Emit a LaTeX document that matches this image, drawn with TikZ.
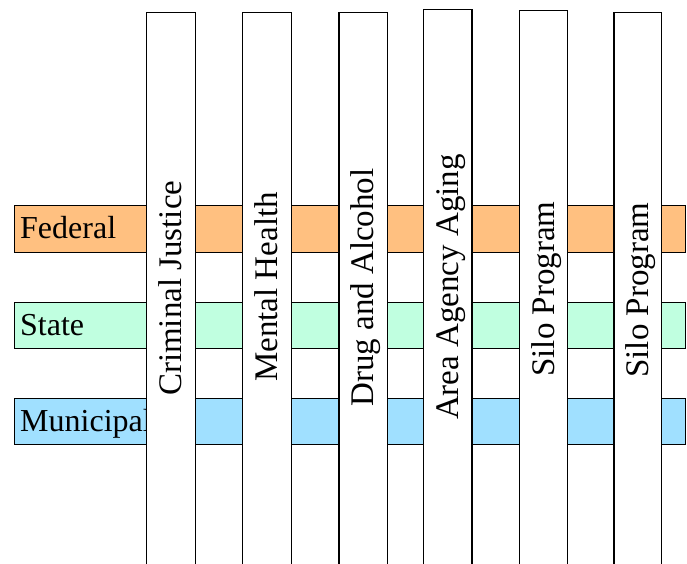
\documentclass[tikz,border=0pt]{standalone}
\usepackage{fontspec}
\setmainfont{Liberation Serif}
\definecolor{fedcol}{RGB}{255,192,128}
\definecolor{statecol}{RGB}{192,255,224}
\definecolor{muncol}{RGB}{160,224,255}
\begin{document}
\begin{tikzpicture}[x=1pt,y=-1pt,
  hbar/.style={draw=black,line width=1.2pt,rectangle,inner sep=0pt,anchor=north west,minimum width=670.5pt,minimum height=46.5pt},
  vbar/.style={draw=black,line width=1.2pt,rectangle,fill=white,inner sep=0pt,anchor=north west,minimum width=49pt},
  hlabel/.style={anchor=base west,inner sep=0pt,font=\fontsize{32}{38}\selectfont},
  vlabel/.style={anchor=base,rotate=90,inner sep=0pt,font=\fontsize{33}{40}\selectfont}]
\useasboundingbox (0,0) rectangle (687,564);
\clip (0,0) rectangle (687,564);
% horizontal bars
\node[hbar,fill=fedcol] (fed) at (14,205) {};
\node[hbar,fill=statecol] (state) at (14,301.5) {};
\node[hbar,fill=muncol] (mun) at (14,397.5) {};
\node[hlabel] (fedl) at (20,238.3) {Federal};
\node[hlabel] (statel) at (20,335) {State};
\node[hlabel] (munl) at (20,431.7) {Municipal};
% vertical bars
\node[vbar,minimum height=560pt] (cj) at (146,12.3) {};
\node[vbar,minimum height=560pt] (mh) at (241.7,11.7) {};
\node[vbar,minimum height=560pt,minimum width=48.4pt] (da) at (338.3,12.3) {};
\node[vbar,minimum height=565pt,minimum width=48.6pt] (aaa) at (422.7,9) {};
\node[vbar,minimum height=562pt,minimum width=48pt] (silo1) at (519,10.3) {};
\node[vbar,minimum height=560pt,minimum width=47.4pt] (silo2) at (613.3,12.3) {};
% vertical labels
\node[vlabel] (cjl) at (181.5,288.3) {Criminal Justice};
\node[vlabel] (mhl) at (277,287) {Mental Health};
\node[vlabel] (dal) at (373.5,287.5) {Drug and Alcohol};
\node[vlabel] (aaal) at (458,287) {Area Agency Aging};
\node[vlabel] (silo1l) at (554,289) {Silo Program};
\node[vlabel] (silo2l) at (648,290) {Silo Program};
\end{tikzpicture}
\end{document}
